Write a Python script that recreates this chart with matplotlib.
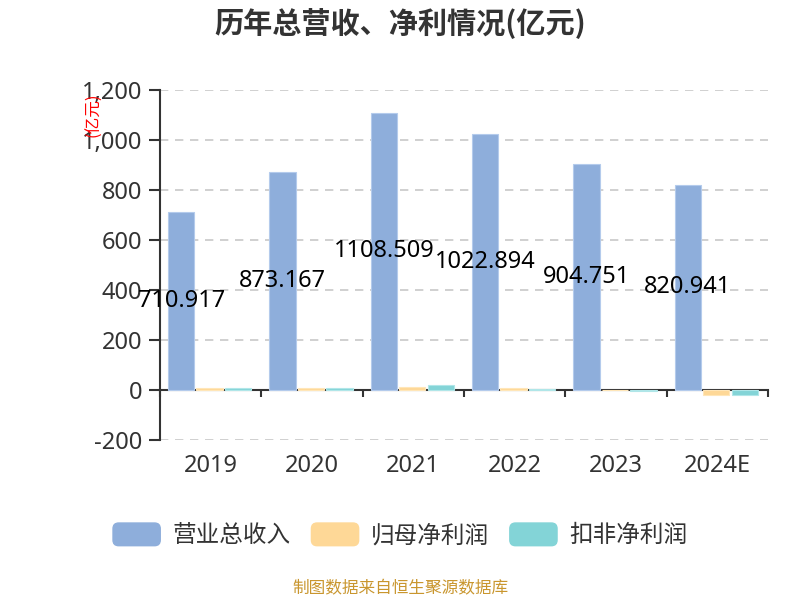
import numpy as np
import matplotlib.pyplot as plt
from matplotlib.patches import FancyBboxPatch, Patch
from matplotlib.legend_handler import HandlerPatch
from matplotlib.ticker import FuncFormatter, FixedLocator

plt.rcParams['font.family'] = ['Noto Sans CJK SC', 'DejaVu Sans']

years = ['2019', '2020', '2021', '2022', '2023', '2024E']
revenue = [710.917, 873.167, 1108.509, 1022.894, 904.751, 820.941]
net_profit = [8, 8, 13, 8, -1, -21]
net_profit_deducted = [7, 6, 20, 4, -3, -21]
series_names = ['营业总收入', '归母净利润', '扣非净利润']

c_blue = '#8eaedb'
c_orange = '#fed897'
c_cyan = '#83d4d7'
dark = '#333333'
num_font = ['Noto Sans', 'DejaVu Sans']

fig = plt.figure(figsize=(8, 6), dpi=100)
ax = fig.add_axes([0.2, 0.2667, 0.76, 0.5833])

x = np.arange(len(years))
w = 0.26
off = 0.28
ax.bar(x - off - 0.01, revenue, w, color=c_blue, edgecolor='#b4cbec', linewidth=0.8, zorder=3)
ax.bar(x - 0.01, net_profit, w, color=c_orange, edgecolor='#ffe6b8', linewidth=0.8, zorder=3)
ax.bar(x + off - 0.01, net_profit_deducted, w, color=c_cyan, edgecolor='#b0e6e8', linewidth=0.8, zorder=3)

for xi, v in zip(x, revenue):
    ax.text(xi - off - 0.01, v / 2, '%.3f' % v, ha='center', va='center', fontsize=17,
            family=num_font, color='black', zorder=5)

ax.set_xlim(-0.5, len(years) - 0.5)
ax.set_ylim(-200, 1200)
ax.set_yticks(np.arange(-200, 1201, 200))
ax.yaxis.set_major_formatter(FuncFormatter(lambda v, p: '{:,.0f}'.format(v)))
ax.grid(axis='y', color='#c8c8c8', linestyle=(0, (5, 4)), linewidth=1.2, zorder=0)
ax.tick_params(axis='y', length=8, width=1.5, color=dark, labelsize=17,
               labelcolor=dark, pad=5)

ax.spines['top'].set_visible(False)
ax.spines['right'].set_visible(False)
ax.spines['left'].set_color(dark)
ax.spines['left'].set_linewidth(1.5)
ax.spines['bottom'].set_position(('data', 0))
ax.spines['bottom'].set_color(dark)
ax.spines['bottom'].set_linewidth(1.5)

ax.set_xticks(x)
ax.set_xticklabels(years)
ax.xaxis.set_minor_locator(FixedLocator(np.arange(-0.5, len(years), 1.0)))
ax.tick_params(axis='x', which='major', length=0, labelsize=17, labelcolor=dark, pad=46)
ax.tick_params(axis='x', which='minor', length=5, width=1.5, color=dark)
for lab in ax.get_xticklabels() + ax.get_yticklabels():
    lab.set_family(num_font)

fig.text(0.117, 0.808, '(亿元)', rotation=90, color='red', fontsize=12,
         ha='center', va='center')

fig.suptitle('历年总营收、净利情况(亿元)', x=0.5, y=0.962, fontsize=21,
             fontweight='bold', color=dark, va='center')


def round_patch(legend, orig_handle, xdescent, ydescent, width, height, fontsize):
    return FancyBboxPatch((-xdescent, -ydescent), width, height,
                          boxstyle='round,pad=0,rounding_size=%f' % (height * 0.25),
                          mutation_aspect=1)


handles = [Patch(color=c, label=n) for c, n in zip([c_blue, c_orange, c_cyan], series_names)]
fig.legend(handles=handles, loc='center', bbox_to_anchor=(0.5, 0.108), ncol=3,
           frameon=False, fontsize=17, handlelength=2.0, handleheight=1.1,
           handletextpad=0.5, columnspacing=0.9, labelcolor=dark,
           handler_map={Patch: HandlerPatch(patch_func=round_patch)})

fig.text(0.5, 0.018, '制图数据来自恒生聚源数据库', ha='center', va='center',
         fontsize=12, color='#c9962e')

fig.savefig('out.png', dpi=100)
